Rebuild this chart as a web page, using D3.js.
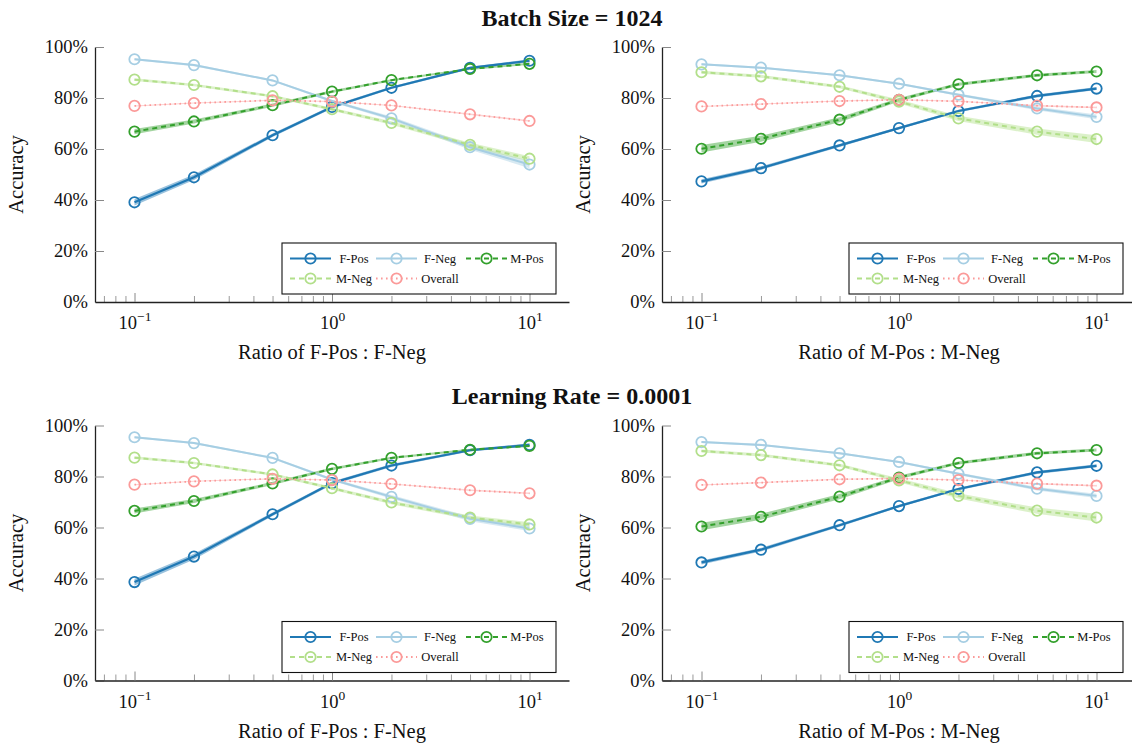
<!DOCTYPE html>
<html>
<head>
<meta charset="utf-8">
<script src="https://cdn.jsdelivr.net/npm/d3@7"></script>
<style>
  body { margin: 0; background: #fff; }
  svg { display: block; }
</style>
</head>
<body>
<script>
// ---------- data ----------
const ratios = [0.1, 0.2, 0.5, 1, 2, 5, 10];
const seriesNames = ["F-Pos", "F-Neg", "M-Pos", "M-Neg", "Overall"];
const yTickValues = [0, 20, 40, 60, 80, 100];
const xMajorTicks = [0.1, 1, 10];
const xMinorTicks = [0.07, 0.08, 0.09, 0.2, 0.3, 0.4, 0.5, 0.6, 0.7, 0.8, 0.9, 2, 3, 4, 5, 6, 7, 8, 9];
const titles = ["Batch Size = 1024", "Learning Rate = 0.0001"];
const xLabels = ["Ratio of F-Pos : F-Neg", "Ratio of M-Pos : M-Neg"];

// Panel A: Batch Size = 1024, F ratio
const fPosA    = [39.1, 48.9, 65.4, 76.5, 84.0, 91.8, 94.6];
const fNegA    = [95.2, 92.9, 86.9, 78.8, 72.0, 60.7, 53.9];
const mPosA    = [66.8, 70.8, 77.2, 82.5, 87.0, 91.4, 93.4];
const mNegA    = [87.2, 85.1, 80.7, 75.6, 70.2, 61.6, 56.2];
const overallA = [76.9, 78.0, 79.1, 78.6, 77.1, 73.6, 71.0];
// Panel B: Batch Size = 1024, M ratio
const fPosB    = [47.3, 52.5, 61.4, 68.2, 74.9, 80.8, 83.7];
const fNegB    = [93.2, 91.9, 88.9, 85.6, 81.3, 75.9, 72.6];
const mPosB    = [60.1, 64.0, 71.5, 79.3, 85.4, 88.9, 90.4];
const mNegB    = [90.1, 88.5, 84.4, 78.6, 72.0, 66.8, 63.9];
const overallB = [76.7, 77.6, 78.8, 79.3, 78.7, 77.0, 76.3];
// Panel C: Learning Rate = 0.0001, F ratio
const fPosC    = [38.6, 48.6, 65.2, 77.4, 84.3, 90.3, 92.4];
const fNegC    = [95.4, 93.1, 87.3, 78.8, 72.0, 63.4, 59.6];
const mPosC    = [66.5, 70.4, 77.3, 83.0, 87.3, 90.5, 92.0];
const mNegC    = [87.4, 85.3, 80.8, 75.4, 69.8, 63.9, 61.2];
const overallC = [76.8, 78.1, 79.1, 78.6, 77.1, 74.6, 73.4];
// Panel D: Learning Rate = 0.0001, M ratio
const fPosD    = [46.3, 51.3, 60.9, 68.4, 75.1, 81.6, 84.2];
const fNegD    = [93.5, 92.4, 89.1, 85.7, 81.1, 75.2, 72.4];
const mPosD    = [60.4, 64.2, 72.1, 79.6, 85.3, 89.1, 90.4];
const mNegD    = [90.0, 88.4, 84.4, 78.5, 72.4, 66.6, 63.9];
const overallD = [76.7, 77.6, 78.9, 79.2, 78.6, 77.2, 76.4];

// standard deviations (shaded bands)
const fPosSdA = [1.3, 1.1, 0.7, 0.6, 0.5, 0.5, 0.6];
const fNegSdA = [0.4, 0.4, 0.4, 0.5, 0.7, 1.0, 1.4];
const mPosSdA = [1.0, 0.8, 0.6, 0.5, 0.4, 0.4, 0.4];
const mNegSdA = [0.5, 0.5, 0.5, 0.6, 0.7, 0.9, 1.0];
const ovSdA   = [0.2, 0.2, 0.2, 0.2, 0.2, 0.3, 0.3];
const fPosSdB = [0.8, 0.7, 0.6, 0.5, 0.5, 0.6, 0.6];
const fNegSdB = [0.4, 0.4, 0.4, 0.4, 0.5, 0.7, 0.9];
const mPosSdB = [1.5, 1.2, 1.0, 0.7, 0.6, 0.6, 0.6];
const mNegSdB = [0.6, 0.6, 0.6, 0.8, 1.0, 1.2, 1.5];
const ovSdB   = [0.2, 0.2, 0.2, 0.2, 0.2, 0.3, 0.3];
const fPosSdC = [1.3, 1.1, 0.7, 0.6, 0.6, 0.5, 0.6];
const fNegSdC = [0.4, 0.4, 0.4, 0.5, 0.7, 0.9, 1.0];
const mPosSdC = [1.0, 0.8, 0.6, 0.5, 0.4, 0.4, 0.4];
const mNegSdC = [0.5, 0.5, 0.5, 0.6, 0.7, 0.8, 0.9];
const ovSdC   = [0.2, 0.2, 0.2, 0.2, 0.2, 0.3, 0.3];
const fPosSdD = [0.8, 0.7, 0.6, 0.5, 0.5, 0.6, 0.6];
const fNegSdD = [0.4, 0.4, 0.4, 0.4, 0.5, 0.7, 0.8];
const mPosSdD = [1.5, 1.2, 1.0, 0.7, 0.6, 0.6, 0.6];
const mNegSdD = [0.6, 0.6, 0.6, 0.8, 1.0, 1.2, 1.5];
const ovSdD   = [0.2, 0.2, 0.2, 0.2, 0.2, 0.3, 0.3];

// ---------- styles ----------
const colors = ["#1f78b4", "#a6cee3", "#33a02c", "#b2df8a", "#fb9a99"];
const dashes = [null, null, "5,4", "5,4", "1.6,3.4"];
const widths = [2.2, 2.0, 2.0, 2.0, 1.8];
const serif = "'Liberation Serif', 'Times New Roman', serif";

const panels = [
  { x0: 95,  y0: 302,   xl: 0, vals: [fPosA, fNegA, mPosA, mNegA, overallA], sds: [fPosSdA, fNegSdA, mPosSdA, mNegSdA, ovSdA] },
  { x0: 662, y0: 302,   xl: 1, vals: [fPosB, fNegB, mPosB, mNegB, overallB], sds: [fPosSdB, fNegSdB, mPosSdB, mNegSdB, ovSdB] },
  { x0: 95,  y0: 680.5, xl: 0, vals: [fPosC, fNegC, mPosC, mNegC, overallC], sds: [fPosSdC, fNegSdC, mPosSdC, mNegSdC, ovSdC] },
  { x0: 662, y0: 680.5, xl: 1, vals: [fPosD, fNegD, mPosD, mNegD, overallD], sds: [fPosSdD, fNegSdD, mPosSdD, mNegSdD, ovSdD] }
];
const W = 474, H = 255;

const svg = d3.select("body").append("svg").attr("width", 1132).attr("height", 750)
  .style("font-family", serif);

// titles
svg.append("text").attr("x", 572).attr("y", 25.5).attr("text-anchor", "middle")
  .attr("font-weight", "bold").attr("font-size", 24).attr("fill", "#111").text(titles[0]);
svg.append("text").attr("x", 572).attr("y", 404).attr("text-anchor", "middle")
  .attr("font-weight", "bold").attr("font-size", 24).attr("fill", "#111").text(titles[1]);

panels.forEach(p => {
  const x = d3.scaleLog().domain([Math.pow(10, -1.2), Math.pow(10, 1.2)]).range([p.x0, p.x0 + W]);
  const y = d3.scaleLinear().domain([0, 100]).range([p.y0, p.y0 - H]);
  const g = svg.append("g");

  // bands
  p.vals.forEach((vals, si) => {
    const pts = ratios.map((r, i) => ({ r, v: vals[i], s: p.sds[si][i] }));
    g.append("path").datum(pts)
      .attr("d", d3.area().x(d => x(d.r)).y0(d => y(d.v - d.s)).y1(d => y(d.v + d.s)))
      .attr("fill", colors[si]).attr("fill-opacity", 0.45).attr("stroke", "none");
  });
  // lines + markers
  p.vals.forEach((vals, si) => {
    const pts = ratios.map((r, i) => ({ r, v: vals[i] }));
    g.append("path").datum(pts)
      .attr("d", d3.line().x(d => x(d.r)).y(d => y(d.v)))
      .attr("fill", "none").attr("stroke", colors[si]).attr("stroke-width", widths[si])
      .attr("stroke-dasharray", dashes[si]);
    g.selectAll(null).data(pts).enter().append("circle")
      .attr("cx", d => x(d.r)).attr("cy", d => y(d.v)).attr("r", 5.2)
      .attr("fill", "none").attr("stroke", colors[si]).attr("stroke-width", 1.8);
  });

  // axes
  const yAxis = d3.axisLeft(y).tickValues(yTickValues).tickSize(-9).tickSizeOuter(0)
    .tickPadding(7).tickFormat(d => d + "%");
  const ya = svg.append("g").attr("transform", `translate(${p.x0},0)`).call(yAxis);
  ya.attr("font-family", serif).attr("font-size", 18.5);
  ya.selectAll(".tick line").attr("stroke", "#888");
  ya.selectAll(".tick text").attr("fill", "#111");
  ya.select(".domain").attr("stroke", "#222").attr("stroke-width", 1.3);

  const xMinor = d3.axisBottom(x).tickValues(xMinorTicks).tickSize(-6).tickSizeOuter(0).tickFormat("");
  const xm = svg.append("g").attr("transform", `translate(0,${p.y0})`).call(xMinor);
  xm.selectAll(".tick line").attr("stroke", "#999");
  xm.select(".domain").remove();

  const xAxis = d3.axisBottom(x).tickValues(xMajorTicks).tickSize(-9).tickSizeOuter(0).tickFormat("");
  const xa = svg.append("g").attr("transform", `translate(0,${p.y0})`).call(xAxis);
  xa.attr("font-family", serif);
  xa.selectAll(".tick line").attr("stroke", "#888");
  xa.select(".domain").attr("stroke", "#222").attr("stroke-width", 1.3);
  xa.selectAll(".tick").each(function(d) {
    const e = Math.round(Math.log10(d));
    const t = d3.select(this).select("text").text(null)
      .attr("y", 27).attr("dy", null).attr("fill", "#111").attr("font-size", 18.5);
    t.append("tspan").text("10");
    t.append("tspan").attr("dy", -8).attr("font-size", 13.5).text(e < 0 ? "\u2212" + (-e) : String(e));
  });

  // axis labels
  svg.append("text").attr("x", p.x0 + W / 2).attr("y", p.y0 + 57).attr("text-anchor", "middle")
    .attr("font-size", 20.5).attr("fill", "#111").text(xLabels[p.xl]);
  svg.append("text").attr("transform", `translate(${p.x0 - 72},${p.y0 - H / 2}) rotate(-90)`)
    .attr("text-anchor", "middle").attr("font-size", 20.5).attr("fill", "#111").text("Accuracy");

  // legend
  const lx = p.x0 + W - 13 - 274, ly = p.y0 - 8 - 51;
  const lg = svg.append("g").attr("transform", `translate(${lx},${ly})`);
  lg.append("rect").attr("width", 274).attr("height", 51).attr("fill", "#fff")
    .attr("stroke", "#111").attr("stroke-width", 1.1);
  const lineStarts = [8, 94, 184], textCenters = [72, 158, 245], rows = [15.5, 35.5];
  seriesNames.forEach((name, si) => {
    const col = si % 3, row = Math.floor(si / 3);
    const yy = rows[row];
    lg.append("line").attr("x1", lineStarts[col]).attr("x2", lineStarts[col] + 41)
      .attr("y1", yy).attr("y2", yy).attr("stroke", colors[si]).attr("stroke-width", widths[si])
      .attr("stroke-dasharray", dashes[si]);
    lg.append("circle").attr("cx", lineStarts[col] + 20.5).attr("cy", yy).attr("r", 5.2)
      .attr("fill", "none").attr("stroke", colors[si]).attr("stroke-width", 1.8);
    lg.append("text").attr("x", textCenters[col]).attr("y", yy + 4).attr("text-anchor", "middle")
      .attr("font-size", 12.5).attr("fill", "#111").text(name);
  });
});
</script>
</body>
</html>
